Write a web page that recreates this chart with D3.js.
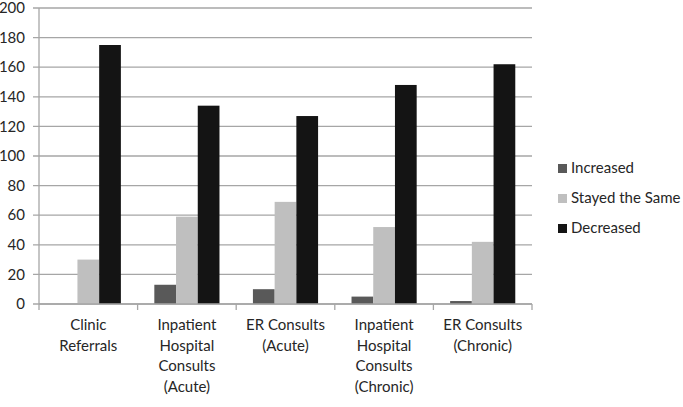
<!DOCTYPE html>
<html><head><meta charset="utf-8">
<script src="https://cdn.jsdelivr.net/npm/d3@7"></script>
<style>body{margin:0;background:#fff}svg{display:block}text{font-family:Lato,"Open Sans",sans-serif;fill:#262626}</style>
</head><body><svg id="c" width="683" height="407"></svg>
<script>
const categories = [["Clinic","Referrals"],["Inpatient","Hospital","Consults","(Acute)"],["ER Consults","(Acute)"],["Inpatient","Hospital","Consults","(Chronic)"],["ER Consults","(Chronic)"]];
const seriesNames = ["Increased","Stayed the Same","Decreased"];
const increased = [0,13,10,5,2];
const stayedSame = [30,59,69,52,42];
const decreased = [175,134,127,148,162];
const yTicks = [0,20,40,60,80,100,120,140,160,180,200];
const colors = ["#595959","#bfbfbf","#141414"];

const series = [increased, stayedSame, decreased];
const svg = d3.select("#c");
const L = 39, R = 532, T = 8, B = 304;
const x = d3.scaleBand().domain(d3.range(categories.length)).range([L,R]).paddingInner(0).paddingOuter(0);
const xi = d3.scaleBand().domain(d3.range(3)).range([0,x.bandwidth()]).paddingOuter(0.77).paddingInner(0);
const y = d3.scaleLinear().domain([0,200]).range([B,T]);

svg.append("g").selectAll("line").data(yTicks).join("line")
  .attr("x1",L-6).attr("x2",R).attr("y1",d=>y(d)).attr("y2",d=>y(d))
  .attr("stroke","#a6a6a6").attr("stroke-width",1.3);
svg.append("g").selectAll("text").data(yTicks).join("text")
  .attr("x",25).attr("y",d=>y(d)).attr("dy","0.35em").attr("text-anchor","end")
  .attr("font-size",15).text(d=>d);
svg.append("line").attr("x1",L).attr("x2",L).attr("y1",T).attr("y2",B).attr("stroke","#a6a6a6").attr("stroke-width",1.3);
categories.forEach((c,i)=>{
  series.forEach((s,j)=>{
    svg.append("rect").attr("x",x(i)+xi(j)).attr("width",xi.bandwidth())
      .attr("y",y(s[i])).attr("height",B-y(s[i])).attr("fill",colors[j]);
  });
});
svg.append("line").attr("x1",L).attr("x2",R).attr("y1",B).attr("y2",B).attr("stroke","#a6a6a6").attr("stroke-width",1.3);
const tickXs = d3.range(categories.length+1).map(i=>L+i*x.bandwidth());
svg.append("g").selectAll("line").data(tickXs).join("line")
  .attr("x1",d=>d).attr("x2",d=>d).attr("y1",B).attr("y2",B+6).attr("stroke","#a6a6a6").attr("stroke-width",1.3);
categories.forEach((c,i)=>{
  const t = svg.append("text").attr("text-anchor","middle").attr("font-size",15);
  c.forEach((ln,k)=>t.append("tspan").attr("x",x(i)+x.bandwidth()/2).attr("y",330+k*20.5).text(ln));
});
seriesNames.forEach((n,j)=>{
  const yy = 168 + j*30;
  svg.append("rect").attr("x",558).attr("y",yy-4).attr("width",9).attr("height",9).attr("fill",colors[j]);
  svg.append("text").attr("x",571).attr("y",yy).attr("dy","0.35em").attr("font-size",15).text(n);
});
</script></body></html>
